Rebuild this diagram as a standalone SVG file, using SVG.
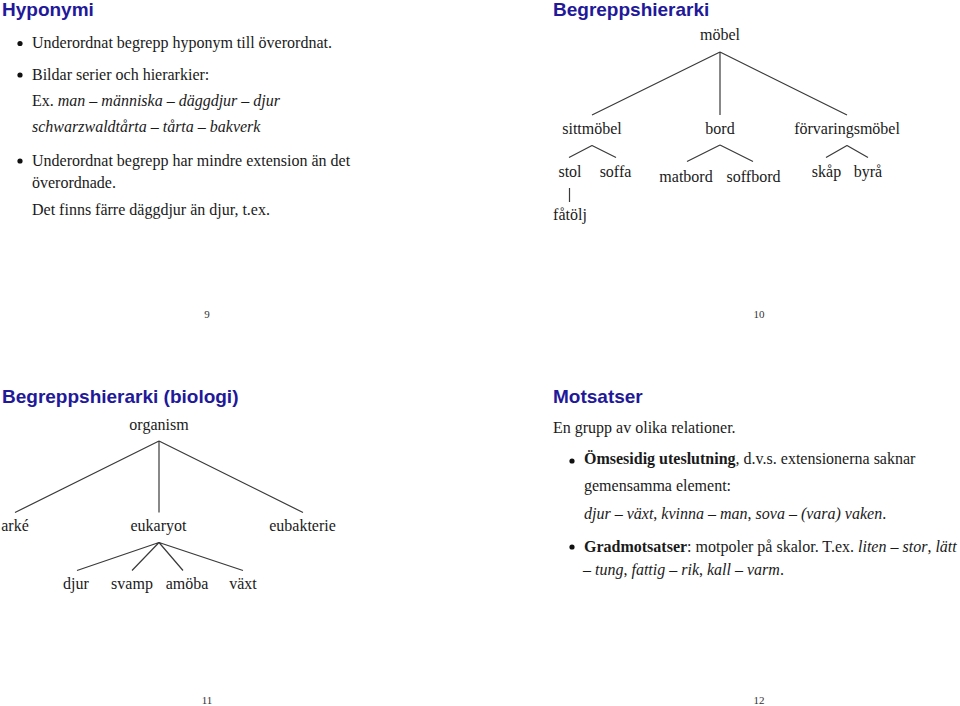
<svg xmlns="http://www.w3.org/2000/svg" width="960" height="706" viewBox="0 0 960 706">
<style>
.t{font-family:"Liberation Serif","Times New Roman",serif;font-size:16px;fill:#1a1a1a}
.c{text-anchor:middle}
.h{font-family:"Liberation Sans",Arial,sans-serif;font-size:19px;font-weight:bold;fill:#22189a}
.pn{font-family:"Liberation Serif","Times New Roman",serif;font-size:11px;fill:#333;text-anchor:middle}
.i{font-style:italic}
.b{font-weight:bold}
.ln{stroke:#3a3a3a;stroke-width:1.2;fill:none}
.bul{fill:#111}
</style>
<rect width="960" height="706" fill="#fff"/>

<!-- Slide 9 -->
<g id="slide9">
<text class="h" x="2" y="16">Hyponymi</text>
<circle class="bul" cx="20" cy="43.5" r="2.6"/>
<text class="t" x="32" y="48">Underordnat begrepp hyponym till överordnat.</text>
<circle class="bul" cx="20" cy="75" r="2.6"/>
<text class="t" x="32" y="80">Bildar serier och hierarkier:</text>
<text class="t" x="32" y="106">Ex. <tspan class="i">man – människa – däggdjur – djur</tspan></text>
<text class="t i" x="32" y="132">schwarzwaldtårta – tårta – bakverk</text>
<circle class="bul" cx="20" cy="161" r="2.6"/>
<text class="t" x="32" y="166">Underordnat begrepp har mindre extension än det</text>
<text class="t" x="32" y="188">överordnade.</text>
<text class="t" x="32" y="215">Det finns färre däggdjur än djur, t.ex.</text>
<text class="pn" x="207" y="318">9</text>
</g>

<!-- Slide 10 -->
<g id="slide10">
<text class="h" x="553" y="16">Begreppshierarki</text>
<text class="pn" x="759" y="318">10</text>
</g>
<g id="connectors-furniture">
<path class="ln" d="M720 52 L592 115 M720 52 L720 115 M720 52 L847 115"/>
<path class="ln" d="M592 145.5 L569 157.5 M592 145.5 L616 157.5"/>
<path class="ln" d="M720 145 L687 161.5 M720 145 L753 161.5"/>
<path class="ln" d="M847 145.5 L826 157.5 M847 145.5 L868 157.5"/>
<path class="ln" d="M569.5 188 L569.5 202"/>
</g>
<g id="n-mobel"><text class="t c" x="720" y="40">möbel</text></g>
<g id="n-sittmobel"><text class="t c" x="592" y="133.5">sittmöbel</text></g>
<g id="n-bord"><text class="t c" x="720" y="133.5">bord</text></g>
<g id="n-forvaringsmobel"><text class="t c" x="847" y="133.5">förvaringsmöbel</text></g>
<g id="n-stol"><text class="t c" x="570" y="176.5">stol</text></g>
<g id="n-soffa"><text class="t c" x="615.5" y="176.5">soffa</text></g>
<g id="n-matbord"><text class="t c" x="686" y="181.5">matbord</text></g>
<g id="n-soffbord"><text class="t c" x="753.5" y="181.5">soffbord</text></g>
<g id="n-skap"><text class="t c" x="826.5" y="176.5">skåp</text></g>
<g id="n-byra"><text class="t c" x="868" y="176.5">byrå</text></g>
<g id="n-fatolj"><text class="t c" x="570" y="220">fåtölj</text></g>

<!-- Slide 11 -->
<g id="slide11">
<text class="h" x="2" y="403">Begreppshierarki (biologi)</text>
<text class="pn" x="207" y="704">11</text>
</g>
<g id="connectors-biology">
<path class="ln" d="M159 441 L15 512.5 M159 441 L159 512.5 M159 441 L303 512.5"/>
<path class="ln" d="M159 542.5 L77 570.5 M159 542.5 L132 570.5 M159 542.5 L183 570.5 M159 542.5 L243 570.5"/>
</g>
<g id="n-organism"><text class="t c" x="159" y="430">organism</text></g>
<g id="n-arke"><text class="t c" x="15" y="530.5">arké</text></g>
<g id="n-eukaryot"><text class="t c" x="158.5" y="530.5">eukaryot</text></g>
<g id="n-eubakterie"><text class="t c" x="302.5" y="530.5">eubakterie</text></g>
<g id="n-djur"><text class="t c" x="76" y="589">djur</text></g>
<g id="n-svamp"><text class="t c" x="132" y="589">svamp</text></g>
<g id="n-amoba"><text class="t c" x="187" y="589">amöba</text></g>
<g id="n-vaxt"><text class="t c" x="243" y="589">växt</text></g>

<!-- Slide 12 -->
<g id="slide12">
<text class="h" x="553" y="403">Motsatser</text>
<text class="t" x="553" y="433">En grupp av olika relationer.</text>
<circle class="bul" cx="572" cy="461" r="2.6"/>
<text class="t" x="584" y="464"><tspan class="b">Ömsesidig uteslutning</tspan>, d.v.s. extensionerna saknar</text>
<text class="t" x="584" y="490.5">gemensamma element:</text>
<text class="t" x="584" y="519"><tspan class="i">djur</tspan> – <tspan class="i">växt</tspan>, <tspan class="i">kvinna</tspan> – <tspan class="i">man</tspan>, <tspan class="i">sova</tspan> – <tspan class="i">(vara) vaken</tspan>.</text>
<circle class="bul" cx="572" cy="547" r="2.6"/>
<text class="t" x="584" y="551.5"><tspan class="b">Gradmotsatser</tspan>: motpoler på skalor. T.ex. <tspan class="i">liten</tspan> – <tspan class="i">stor</tspan>, <tspan class="i">lätt</tspan></text>
<text class="t" x="583" y="575">– <tspan class="i">tung</tspan>, <tspan class="i">fattig</tspan> – <tspan class="i">rik</tspan>, <tspan class="i">kall</tspan> – <tspan class="i">varm</tspan>.</text>
<text class="pn" x="759" y="704">12</text>
</g>
</svg>
